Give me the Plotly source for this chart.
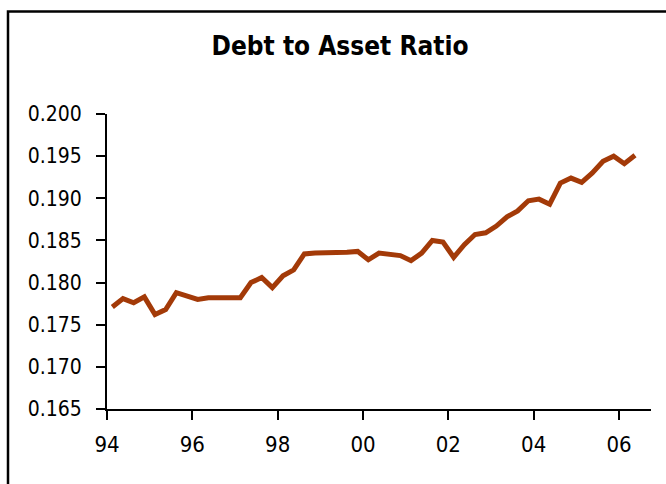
import plotly.graph_objects as go

# Quarterly debt-to-asset ratio, 1994Q1 - 2006Q2
start_year = 1994
ratio = [
    0.1771, 0.1781, 0.1776, 0.1783, 0.1762, 0.1768, 0.1788, 0.1784,
    0.1780, 0.1782, 0.1782, 0.1781, 0.1782, 0.1800, 0.1806, 0.1794,
    0.1808, 0.1815, 0.1834, 0.1835, 0.1835, 0.1835, 0.1836, 0.1837,
    0.1827, 0.1835, 0.1834, 0.1832, 0.1826, 0.1835, 0.1850, 0.1848,
    0.1830, 0.1845, 0.1857, 0.1859, 0.1867, 0.1878, 0.1885, 0.1897,
    0.1899, 0.1893, 0.1918, 0.1924, 0.1919, 0.1930, 0.1944, 0.1950,
    0.1941, 0.1951,
]
# each quarter plotted at its midpoint
quarters = [start_year + 0.125 + 0.25 * i for i in range(len(ratio))]

tick_years = [1994, 1996, 1998, 2000, 2002, 2004, 2006]
tick_text = ["94", "96", "98", "00", "02", "04", "06"]
y_ticks = [0.165, 0.170, 0.175, 0.180, 0.185, 0.190, 0.195, 0.200]

FONT = "DejaVu Sans Condensed"

fig = go.Figure(
    go.Scatter(
        x=quarters,
        y=ratio,
        mode="lines",
        line=dict(color="#A33A08", width=5),
        hoverinfo="skip",
    )
)

fig.update_layout(
    width=666,
    height=484,
    margin=dict(l=107, r=15, t=114, b=75),
    paper_bgcolor="white",
    plot_bgcolor="white",
    showlegend=False,
    font=dict(family=FONT, color="black", size=21),
    title=dict(
        text="<b>Debt to Asset Ratio</b>",
        x=340 / 666,
        xanchor="center",
        y=1 - 46 / 484,
        yanchor="middle",
        font=dict(family=FONT, size=26, color="black"),
    ),
    shapes=[
        dict(
            type="rect",
            xref="paper",
            yref="paper",
            x0=(8 - 107) / 544,
            x1=(680 - 107) / 544,
            y0=(409.3 - 500) / 295.3,
            y1=(409.3 - 11.5) / 295.3,
            line=dict(color="black", width=2.5),
            fillcolor="rgba(0,0,0,0)",
            layer="above",
        )
    ],
)

fig.update_xaxes(
    range=[1994, 2006.75],
    tickmode="array",
    tickvals=tick_years,
    ticktext=tick_text,
    ticks="outside",
    ticklen=9,
    tickwidth=2,
    tickcolor="black",
    showline=True,
    linecolor="black",
    linewidth=2,
    showgrid=False,
    zeroline=False,
    ticklabelstandoff=6,
    tickfont=dict(family=FONT, size=22),
)

fig.update_yaxes(
    range=[0.165, 0.200],
    tickmode="array",
    tickvals=y_ticks,
    ticktext=[f"{v:.3f}" for v in y_ticks],
    ticks="outside",
    ticklen=9,
    tickwidth=2,
    tickcolor="black",
    showline=True,
    linecolor="black",
    linewidth=2,
    showgrid=False,
    zeroline=False,
    ticklabelstandoff=10,
    tickfont=dict(family=FONT, size=21),
)

fig.write_html("out.html")
